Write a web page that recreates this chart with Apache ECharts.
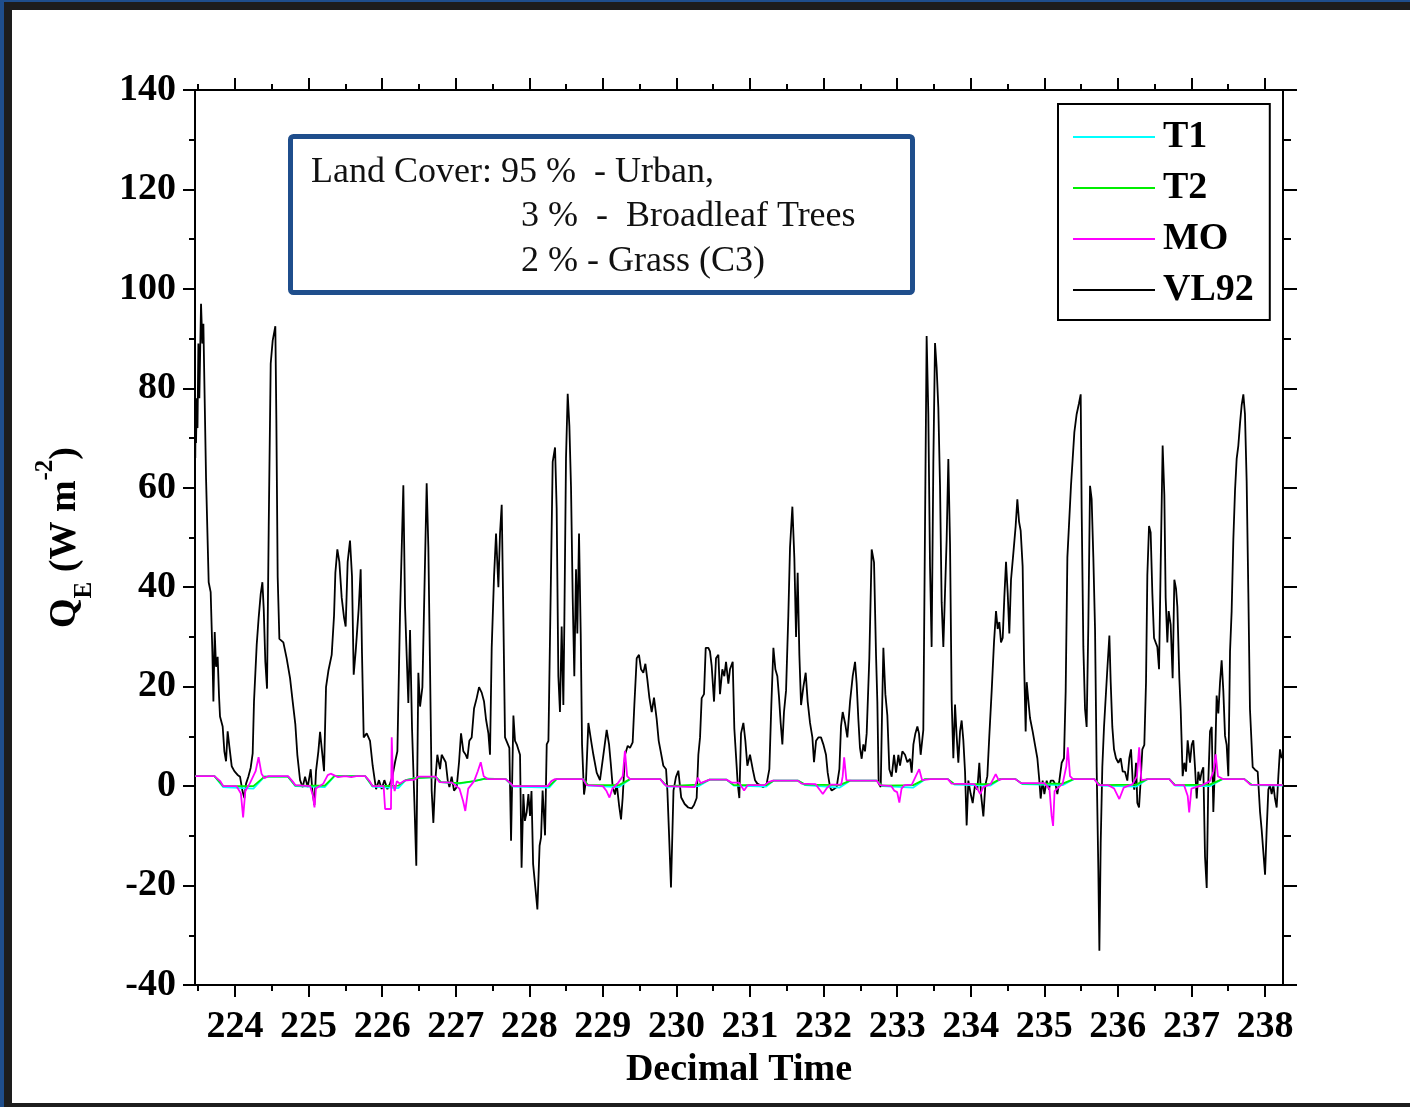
<!DOCTYPE html>
<html>
<head>
<meta charset="utf-8">
<script src="https://cdn.jsdelivr.net/npm/echarts@6/dist/echarts.min.js"></script>
<style>
  html, body { margin: 0; padding: 0; width: 1410px; height: 1107px; background: #1d1d1d; overflow: hidden; }
  #topband { position: absolute; left: 0; top: 0; width: 1410px; height: 2px; background: #1f4e8c; }
  #edge { position: absolute; left: 0; top: 0; width: 4px; height: 1107px; background: #1f4e8c; }
  #paper { position: absolute; left: 12px; top: 10px; width: 1398px; height: 1093px; background: #fff; }
  #chart { position: absolute; left: 0; top: 0; width: 1410px; height: 1107px; }
</style>
</head>
<body>
<div id="topband"></div>
<div id="edge"></div>
<div id="paper"></div>
<div id="chart"></div>
<script>
// axis ticks (decimal day)
const dayTicks = [224, 225, 226, 227, 228, 229, 230, 231, 232, 233, 234, 235, 236, 237, 238];
const halfTicks = [223.5, 224.5, 225.5, 226.5, 227.5, 228.5, 229.5, 230.5, 231.5, 232.5, 233.5, 234.5, 235.5, 236.5, 237.5];

// VL92
const vlTime = [
  223.460, 223.465, 223.470, 223.480, 223.490, 223.502, 223.515, 223.538, 223.556, 223.570,
  223.579, 223.597, 223.606, 223.624, 223.642, 223.669, 223.692, 223.706, 223.724, 223.742,
  223.764, 223.783, 223.796, 223.832, 223.855, 223.878, 223.900, 223.923, 223.955, 223.991,
  224.032, 224.068, 224.100, 224.127, 224.150, 224.181, 224.213, 224.240, 224.258, 224.295,
  224.322, 224.349, 224.372, 224.390, 224.412, 224.435, 224.458, 224.485, 224.512, 224.548,
  224.562, 224.580, 224.603, 224.657, 224.702, 224.748, 224.784, 224.820, 224.847, 224.884,
  224.920, 224.952, 224.988, 225.029, 225.051, 225.079, 225.101, 225.133, 225.156, 225.178,
  225.210, 225.237, 225.269, 225.314, 225.346, 225.364, 225.391, 225.418, 225.450, 225.482,
  225.504, 225.531, 225.563, 225.590, 225.613, 225.640, 225.681, 225.708, 225.726, 225.749,
  225.790, 225.835, 225.871, 225.917, 225.957, 225.994, 226.030, 226.071, 226.107, 226.139,
  226.175, 226.207, 226.243, 226.266, 226.288, 226.311, 226.334, 226.356, 226.379, 226.406,
  226.438, 226.464, 226.492, 226.515, 226.547, 226.605, 226.628, 226.651, 226.673, 226.696,
  226.719, 226.750, 226.787, 226.809, 226.832, 226.864, 226.891, 226.914, 226.945, 226.977,
  227.013, 227.045, 227.072, 227.104, 227.136, 227.158, 227.185, 227.217, 227.249, 227.285,
  227.317, 227.353, 227.385, 227.412, 227.444, 227.466, 227.489, 227.521, 227.548, 227.580,
  227.602, 227.625, 227.648, 227.670, 227.693, 227.729, 227.752, 227.784, 227.806, 227.829,
  227.874, 227.895, 227.919, 227.940, 227.965, 227.988, 228.010, 228.030, 228.052, 228.086,
  228.110, 228.140, 228.160, 228.181, 228.214, 228.237, 228.260, 228.291, 228.318, 228.350,
  228.372, 228.395, 228.417, 228.440, 228.463, 228.477, 228.499, 228.522, 228.545, 228.567,
  228.590, 228.612, 228.635, 228.653, 228.676, 228.699, 228.717, 228.744, 228.771, 228.803,
  228.825, 228.848, 228.871, 228.916, 228.961, 229.007, 229.052, 229.084, 229.106, 229.134,
  229.165, 229.188, 229.220, 229.247, 229.269, 229.301, 229.338, 229.369, 229.405, 229.428,
  229.460, 229.491, 229.519, 229.550, 229.578, 229.605, 229.632, 229.664, 229.695, 229.732,
  229.759, 229.786, 229.822, 229.859, 229.877, 229.898, 229.926, 229.960, 229.993, 230.026,
  230.065, 230.112, 230.160, 230.207, 230.239, 230.275, 230.298, 230.321, 230.343, 230.375,
  230.398, 230.434, 230.456, 230.479, 230.511, 230.538, 230.570, 230.592, 230.624, 230.651,
  230.674, 230.706, 230.728, 230.765, 230.787, 230.810, 230.833, 230.855, 230.878, 230.910,
  230.937, 230.964, 231.000, 231.037, 231.068, 231.100, 231.136, 231.181, 231.227, 231.263,
  231.290, 231.318, 231.345, 231.372, 231.395, 231.417, 231.440, 231.462, 231.490, 231.521,
  231.544, 231.576, 231.603, 231.626, 231.648, 231.671, 231.694, 231.725, 231.757, 231.784,
  231.816, 231.848, 231.870, 231.898, 231.929, 231.965, 231.997, 232.033, 232.056, 232.088,
  232.110, 232.142, 232.178, 232.215, 232.237, 232.260, 232.292, 232.323, 232.360, 232.396,
  232.428, 232.450, 232.473, 232.495, 232.518, 232.541, 232.563, 232.586, 232.622, 232.654,
  232.686, 232.713, 232.731, 232.749, 232.777, 232.795, 232.813, 232.840, 232.867, 232.894,
  232.926, 232.958, 232.985, 233.017, 233.039, 233.071, 233.107, 233.139, 233.175, 233.198,
  233.221, 233.248, 233.275, 233.297, 233.320, 233.356, 233.379, 233.401, 233.424, 233.447,
  233.469, 233.492, 233.515, 233.537, 233.560, 233.583, 233.605, 233.628, 233.673, 233.696,
  233.719, 233.741, 233.764, 233.787, 233.809, 233.832, 233.855, 233.877, 233.900, 233.923,
  233.945, 233.968, 234.000, 234.027, 234.058, 234.090, 234.117, 234.140, 234.172, 234.199,
  234.226, 234.253, 234.285, 234.317, 234.344, 234.367, 234.389, 234.412, 234.435, 234.457,
  234.480, 234.503, 234.525, 234.548, 234.580, 234.611, 234.634, 234.657, 234.679, 234.706,
  234.725, 234.747, 234.761, 234.783, 234.806, 234.842, 234.874, 234.906, 234.933, 234.951,
  234.978, 235.001, 235.033, 235.064, 235.087, 235.123, 235.155, 235.178, 235.205, 235.237,
  235.268, 235.291, 235.314, 235.341, 235.363, 235.386, 235.409, 235.440, 235.472, 235.495,
  235.508, 235.531, 235.554, 235.576, 235.599, 235.622, 235.644, 235.667, 235.690, 235.712,
  235.735, 235.749, 235.767, 235.789, 235.812, 235.835, 235.857, 235.885, 235.903, 235.925,
  235.948, 235.975, 236.007, 236.039, 236.066, 236.097, 236.129, 236.156, 236.179, 236.202,
  236.224, 236.247, 236.265, 236.288, 236.310, 236.333, 236.360, 236.383, 236.401, 236.424,
  236.446, 236.469, 236.492, 236.514, 236.537, 236.560, 236.582, 236.609, 236.632, 236.650,
  236.673, 236.691, 236.718, 236.745, 236.768, 236.791, 236.809, 236.836, 236.854, 236.881,
  236.904, 236.927, 236.949, 236.981, 237.004, 237.026, 237.049, 237.072, 237.094, 237.117,
  237.140, 237.162, 237.185, 237.208, 237.230, 237.253, 237.276, 237.298, 237.321, 237.343,
  237.366, 237.389, 237.411, 237.434, 237.457, 237.479, 237.502, 237.525, 237.547, 237.570,
  237.593, 237.615, 237.638, 237.661, 237.683, 237.706, 237.728, 237.751, 237.774, 237.796,
  237.833, 237.864, 237.901, 237.933, 237.955, 237.978, 238.001, 238.023, 238.046, 238.068,
  238.091, 238.114, 238.136, 238.159, 238.182, 238.204, 238.227
];
const vlValue = [
  66, 77, 69, 78, 72, 89, 78, 97, 89, 93,
  85, 85, 62, 62, 41, 39, 27, 17, 31, 24,
  26, 18, 14, 12, 7, 5, 11, 8, 4, 3,
  2.3, 1.9, -0.9, -2.4, 0.5, 1.9, 3.7, 6.6, 17, 28.5,
  34, 38.6, 41, 35.7, 25, 19.6, 52, 85, 89.6, 92.5,
  73.5, 42, 29.6, 28.9, 25.7, 21.7, 17, 12.4, 6.3, 1.2,
  -0.2, 1.9, -0.2, 3.4, -0.9, -3.8, 3, 7, 10.9, 7.7,
  3, 19.9, 23.2, 26.4, 34.3, 42.9, 47.6, 45.1, 37.9, 33.9,
  32.1, 45.1, 49.4, 42.2, 22.4, 27.1, 35.7, 43.6, 26.7, 9.8,
  10.6, 9.1, 4.1, -0.6, 1.2, -0.6, 1.2, -0.6, 0.5, 1.9,
  4.8, 7, 34.7, 34.3, 60.5, 36.1, 26, 16.7, 31.4, 11.6,
  -3.1, -16, 22.8, 16, 19.9, 60.9, 48, 23.5, -0.9, -7.4,
  0.5, 6.3, 3.4, 6.3, 6.6, 4.8, 1.2, -0.2, 1.9, -0.9,
  -0.2, 4.8, 10.6, 7, 6.3, 5.5, 9.1, 9.8, 15.6, 17.7,
  19.9, 18.8, 17, 13.4, 10.6, 6.3, 27.8, 42.2, 50.8, 40,
  50.8, 56.6, 33.6, 9.8, 10.2, 7.7, -11, 14.2, 9.1, 8.4,
  6.3, -16.4, -1.6, -7, -5.2, -1.6, -6, -1, -15.7, -21,
  -24.8, -12, -10.3, -0.9, -9.9, 8.4, 9.1, 39, 65.2, 68.1,
  55.9, 22.1, 14.9, 32.1, 16.3, 33.6, 65.9, 78.9, 72.4, 60.2,
  37.9, 22.1, 43.6, 30.7, 50.8, 30.7, 8.4, -1.7, 1.2, 12.7,
  12.4, 8.4, 6.3, 2.7, 1.2, 6.3, 11.3, 8.4, 4.8, -0.2,
  -1.7, 0.5, -3.8, -6.7, -2.4, 6.3, 8.1, 7.7, 8.8, 16.3,
  25.7, 26.4, 23.5, 22.8, 24.6, 21.4, 17.8, 14.9, 17.8, 13.4,
  9.1, 7, 4.1, 3.4, -0.9, -9, -20.4, -0.9, 1.8, 3.1,
  -2.3, -3.6, -4.3, -4.5, -3.8, -2.4, 6.3, 9.8, 17.7, 18.5,
  27.8, 27.8, 27.1, 24.2, 17, 25.7, 26.4, 18.5, 23.5, 22.1,
  25, 20.6, 23.5, 25, 11.6, 11.3, 0.5, -2.4, 10.6, 12.7,
  9.1, 4.1, 6.3, 3.4, 1.2, 0.5, 0.2, -0.2, 0.5, 3.4,
  16.3, 27.8, 23.5, 22.1, 17.8, 12.7, 8.4, 14.9, 19.2, 34.3,
  48, 56.2, 45.8, 30, 42.9, 26.4, 16.3, 19.9, 22.8, 17,
  12.7, 9.8, 4.8, 9.1, 9.8, 9.8, 8.4, 6.3, 2.7, -0.2,
  -0.9, -0.6, -0.2, 3.4, 12, 14.9, 12.7, 9.8, 17, 22.1,
  25, 20.6, 13.4, 7.7, 5.5, 8.4, 7, 10.6, 25.7, 47.6,
  45, 26.4, 17, 0.5, -0.2, 14.9, 27.8, 18.5, 14.2, 3.4,
  1.9, 6.3, 2.7, 6.3, 4.1, 7, 6.3, 4.8, 5.5, 2.7,
  8.4, 10.6, 12, 10.6, 6.3, 11.3, 52.3, 90.5, 74.8, 44.2,
  28, 64.9, 89.1, 84.2, 76.1, 60.4, 37, 28, 49.6, 65.8,
  48.7, 17.3, 5.6, 16.4, 10.1, 4.7, 11, 13.2, 9.2, 2.9,
  -7.9, 1.1, -1.6, -3.4, 0.2, -0.7, 4.7, -1.6, -6.1, 0.2,
  2, 10.1, 19.1, 29, 35.2, 31.6, 33, 28.9, 29.8, 37.9,
  45.1, 38.8, 30.7, 41.5, 46.9, 52.3, 57.7, 53.2, 51.4, 44.2,
  25.3, 11, 20.9, 17.3, 13.7, 11, 8.3, 5.6, 1.1, -2.5,
  1.1, -1.6, 1.1, -0.7, 1.1, 1.1, 0.2, -1.6, 1.1, 4.7,
  5.6, 19.1, 46, 46, 60.4, 65.8, 71.2, 74.8, 77, 78.8,
  55.9, 28, 15.5, 11.9, 32.5, 60.4, 57.7, 46, 31.6, 3.8,
  -16.9, -33.1, -11.5, 3.8, 11.9, 11.9, 23.5, 30.3, 20.9, 11.9,
  7.4, 5.6, 4.7, 5.6, 2.9, 2.9, 1.1, 5.6, 7.4, 1.1,
  -0.7, 4.7, -3.4, -4.3, 1.1, 7.4, 8.3, 20.9, 42.4, 52.3,
  51, 38.8, 29.8, 28.9, 28, 23.5, 44.2, 68.5, 58.6, 37.9,
  28.9, 35.2, 32.5, 21.7, 41.5, 39.7, 36.1, 21.7, 15.5, 2,
  4.7, 2.9, 9.2, 4.7, 8.3, 9.2, 3.8, -2.5, 2.9, 1.1,
  2.9, 3.8, -14.2, -20.5, 1.1, 11, 11.9, -5.2, 4.7, 18.2,
  14.6, 20.9, 25.3, 19.1, 10.1, 8.3, 2, 27.1, 35.2, 49.6,
  59.5, 65.8, 68.5, 73, 76.6, 78.8, 74.8, 61.3, 38.8, 15.5,
  3.8, 3.3, 2.9, -5.2, -8.8, -13.3, -17.8, -8.8, -0.7, 0.2,
  -1.6, 0.2, -2.5, -4.3, 2, 7.4, 5.6
];

// MO
const moTime = [
  223.46, 223.72, 223.80, 223.84, 224.02, 224.08, 224.11, 224.14, 224.20, 224.28,
  224.32, 224.36, 224.40, 224.45, 224.72, 224.78, 224.82, 225.02, 225.06, 225.08,
  225.10, 225.20, 225.26, 225.30, 225.40, 225.50, 225.58, 225.65, 225.77, 225.83,
  225.87, 226.02, 226.04, 226.12, 226.13, 226.15, 226.17, 226.20, 226.24, 226.30,
  226.44, 226.49, 226.73, 226.78, 226.95, 227.05, 227.10, 227.13, 227.17, 227.25,
  227.30, 227.34, 227.38, 227.44, 227.68, 227.75, 227.78, 228.25, 228.30, 228.35,
  228.73, 228.78, 229.00, 229.05, 229.09, 229.13, 229.20, 229.27, 229.30, 229.33,
  229.37, 229.78, 229.84, 229.87, 230.25, 230.29, 230.33, 230.45, 230.68, 230.75,
  230.85, 230.92, 230.97, 231.20, 231.25, 231.31, 231.65, 231.70, 231.89, 231.95,
  231.99, 232.05, 232.10, 232.24, 232.26, 232.28, 232.31, 232.38, 232.72, 232.77,
  232.92, 232.96, 233.00, 233.03, 233.06, 233.10, 233.20, 233.27, 233.30, 233.34,
  233.45, 233.69, 233.74, 234.05, 234.10, 234.13, 234.17, 234.27, 234.34, 234.38,
  234.42, 234.61, 234.68, 235.00, 235.07, 235.10, 235.12, 235.14, 235.25, 235.30,
  235.32, 235.35, 235.39, 235.68, 235.74, 235.87, 235.95, 236.02, 236.08, 236.20,
  236.26, 236.29, 236.32, 236.41, 236.70, 236.77, 236.90, 236.95, 236.97, 237.00,
  237.15, 237.25, 237.30, 237.33, 237.36, 237.43, 237.72, 237.80, 238.24
];
const moValue = [
  2.0, 2.0, 1.0, 0.0, 0.0, -1.5, -6.3, -1.0, 0.5, 3.0,
  5.8, 2.5, 1.6, 2.0, 2.0, 1.0, 0.2, 0.0, -2.0, -4.3,
  -0.5, 0.5, 2.2, 2.5, 1.8, 2.0, 1.8, 2.0, 2.0, 1.0,
  0.0, 0.0, -4.6, -4.6, 9.8, 0.5, -1.0, 1.0, 0.5, 1.1,
  1.3, 1.9, 1.9, 0.8, 0.7, -0.5, -3.0, -5.0, -0.5, 1.0,
  3.0, 4.8, 2.0, 1.4, 1.4, 0.5, 0.0, 0.0, 1.0, 1.4,
  1.4, 0.2, 0.0, -1.0, -2.3, -0.5, 0.5, 2.0, 7.1, 2.0,
  1.4, 1.4, 0.3, 0.0, -0.2, 1.7, 0.6, 1.3, 1.3, 0.7,
  0.7, -0.9, 0.2, 0.2, 0.8, 1.1, 1.1, 0.5, 0.4, -0.8,
  -1.6, -0.3, 0.3, 0.3, 2.0, 5.8, 1.2, 1.1, 1.1, 0.2,
  0.0, -0.9, -1.2, -3.3, -0.5, 0.2, 0.3, 2.5, 3.4, 1.2,
  1.4, 1.4, 0.5, 0.4, -0.8, -1.6, -0.2, 0.4, 2.4, 1.2,
  1.4, 1.4, 0.6, 0.6, -0.5, -6.0, -8.0, -1.0, 0.5, 4.0,
  7.8, 2.0, 1.4, 1.4, 0.2, 0.2, -0.5, -2.6, -0.3, 0.4,
  2.0, 7.8, 1.2, 1.4, 1.4, 0.2, 0.2, -2.0, -5.3, -0.5,
  0.2, 1.0, 3.0, 6.4, 2.0, 1.4, 1.4, 0.3, 0.2
];

// T1 and T2 share the same times
const tTime = [
  223.46, 223.72, 223.84, 224.25, 224.40, 224.72, 224.82, 225.22, 225.35, 225.77,
  225.87, 226.22, 226.32, 226.45, 226.73, 226.80, 227.05, 227.25, 227.40, 227.68,
  227.78, 228.27, 228.37, 228.73, 228.80, 229.22, 229.37, 229.78, 229.87, 230.30,
  230.45, 230.68, 230.78, 231.22, 231.32, 231.65, 231.75, 232.22, 232.36, 232.72,
  232.80, 233.22, 233.38, 233.69, 233.78, 234.27, 234.40, 234.61, 234.70, 235.25,
  235.40, 235.68, 235.76, 236.25, 236.40, 236.70, 236.78, 237.25, 237.42, 237.72,
  237.82, 238.24
];
const t2Value = [
  2.0, 2.0, 0.0, 0.0, 1.9, 1.9, 0.1, 0.1, 2.0, 2.0,
  0.0, 0.1, 1.2, 1.6, 1.8, 0.8, 0.6, 1.0, 1.5, 1.4,
  0.0, 0.0, 1.4, 1.4, 0.2, 0.2, 1.4, 1.4, 0.0, 0.3,
  1.3, 1.3, 0.2, 0.2, 1.1, 1.1, 0.3, 0.2, 1.1, 1.1,
  0.1, 0.2, 1.4, 1.4, 0.4, 0.4, 1.4, 1.4, 0.5, 0.5,
  1.4, 1.4, 0.2, 0.3, 1.4, 1.4, 0.2, 0.3, 1.4, 1.4,
  0.3, 0.2
];
const t1Value = [
  2.0, 2.0, -0.2, -0.5, 1.9, 1.9, 0.0, -0.2, 2.0, 2.0,
  -0.1, -0.4, 1.2, 1.6, 1.8, 0.8, 0.5, 1.0, 1.5, 1.4,
  -0.1, -0.3, 1.4, 1.4, 0.1, -0.2, 1.4, 1.4, -0.1, 0.0,
  1.3, 1.3, 0.1, -0.1, 1.1, 1.1, 0.2, -0.3, 1.1, 1.1,
  0.0, -0.3, 1.4, 1.4, 0.3, 0.1, 1.4, 1.4, 0.4, 0.2,
  1.4, 1.4, 0.1, -0.1, 1.4, 1.4, 0.1, 0.0, 1.4, 1.4,
  0.2, 0.1
];

const noteLines = ['Land Cover: 95 %  - Urban,', '3 %  -  Broadleaf Trees', '2 % - Grass (C3)'];

function pairs(ts, vs) {
  return ts.map((t, i) => [t, vs[i]]);
}

const serif = "'Liberation Serif', 'Times New Roman', serif";
const black = '#000';
const xMin = 223.456, xMax = 238.245;

function xAx(pos, ticks, len, labels) {
  return {
    type: 'value', position: pos, min: xMin, max: xMax,
    splitLine: { show: false },
    axisLine: { show: true, onZero: false, lineStyle: { color: black, width: 2 } },
    axisTick: { show: true, inside: false, length: len, customValues: ticks, lineStyle: { color: black, width: 2 } },
    axisLabel: labels ? {
      customValues: ticks, margin: 23, color: black,
      fontFamily: serif, fontWeight: 'bold', fontSize: 38
    } : { show: false }
  };
}

const bottomMain = xAx('bottom', dayTicks, 12, true);
bottomMain.name = 'Decimal Time';
bottomMain.nameLocation = 'middle';
bottomMain.nameGap = 66;
bottomMain.nameTextStyle = { fontFamily: serif, fontWeight: 'bold', fontSize: 38, color: black };

const yCommon = {
  type: 'value', min: -40, max: 140, interval: 20,
  splitLine: { show: false },
  axisLine: { show: true, onZero: false, lineStyle: { color: black, width: 2 } },
};

const chart = echarts.init(document.getElementById('chart'));
chart.setOption({
  animation: false,
  backgroundColor: 'transparent',
  grid: { left: 195, right: 127, top: 90, bottom: 122 },
  xAxis: [
    bottomMain,
    xAx('bottom', halfTicks, 6, false),
    xAx('top', dayTicks, 12, false),
    xAx('top', halfTicks, 6, false)
  ],
  yAxis: [
    Object.assign({}, yCommon, {
      position: 'left',
      axisTick: { show: true, length: 12, lineStyle: { color: black, width: 2 } },
      minorTick: { show: true, splitNumber: 2, length: 6, lineStyle: { color: black, width: 2 } },
      axisLabel: { margin: 19, color: black, fontFamily: serif, fontWeight: 'bold', fontSize: 38 },
      name: '{b|Q}{s|E}{b| (W m}{p|-2}{b|)}',
      nameLocation: 'middle',
      nameRotate: 90,
      nameGap: 98,
      nameTextStyle: {
        fontFamily: serif, fontWeight: 'bold', fontSize: 38, color: black,
        rich: {
          b: { fontFamily: serif, fontWeight: 'bold', fontSize: 38, color: black, lineHeight: 64, verticalAlign: 'middle' },
          s: { fontFamily: serif, fontWeight: 'bold', fontSize: 25, color: black, verticalAlign: 'bottom' },
          p: { fontFamily: serif, fontWeight: 'bold', fontSize: 25, color: black, verticalAlign: 'top' }
        }
      }
    }),
    Object.assign({}, yCommon, {
      position: 'right',
      axisTick: { show: true, length: 14, lineStyle: { color: black, width: 2 } },
      minorTick: { show: true, splitNumber: 2, length: 8, lineStyle: { color: black, width: 2 } },
      axisLabel: { show: false }
    })
  ],
  legend: {
    data: ['T1', 'T2', 'MO', 'VL92'],
    orient: 'vertical',
    left: 1058, top: 104,
    icon: 'rect',
    itemWidth: 82, itemHeight: 2, itemGap: 13,
    padding: [14, 16, 11, 15],
    borderColor: black, borderWidth: 2,
    backgroundColor: '#fff',
    selectedMode: false,
    textStyle: { fontFamily: serif, fontWeight: 'bold', fontSize: 38, color: black, lineHeight: 38, padding: [0, 0, 0, 3] }
  },
  graphic: [
    {
      type: 'rect', z: 100,
      shape: { x: 290.5, y: 136.5, width: 622, height: 156, r: 3 },
      style: { fill: '#fff', stroke: '#1f4e8c', lineWidth: 5 }
    },
    { type: 'text', z: 101, x: 311, y: 173, style: { text: noteLines[0], fontFamily: serif, fontSize: 36, fill: '#111', verticalAlign: 'middle' } },
    { type: 'text', z: 101, x: 521, y: 217, style: { text: noteLines[1], fontFamily: serif, fontSize: 36, fill: '#111', verticalAlign: 'middle' } },
    { type: 'text', z: 101, x: 521, y: 262, style: { text: noteLines[2], fontFamily: serif, fontSize: 36, fill: '#111', verticalAlign: 'middle' } }
  ],
  series: [
    { name: 'VL92', type: 'line', z: 1, data: pairs(vlTime, vlValue), symbol: 'none',
      lineStyle: { color: '#000', width: 1.8 }, itemStyle: { color: '#000' } },
    { name: 'T1', type: 'line', z: 2, data: pairs(tTime, t1Value), symbol: 'none',
      lineStyle: { color: '#00ffff', width: 1.8 }, itemStyle: { color: '#00ffff' } },
    { name: 'T2', type: 'line', z: 3, data: pairs(tTime, t2Value), symbol: 'none',
      lineStyle: { color: '#00ee00', width: 1.8 }, itemStyle: { color: '#00ee00' } },
    { name: 'MO', type: 'line', z: 4, data: pairs(moTime, moValue), symbol: 'none',
      lineStyle: { color: '#ff00ff', width: 1.8 }, itemStyle: { color: '#ff00ff' } }
  ]
});
</script>
</body>
</html>
